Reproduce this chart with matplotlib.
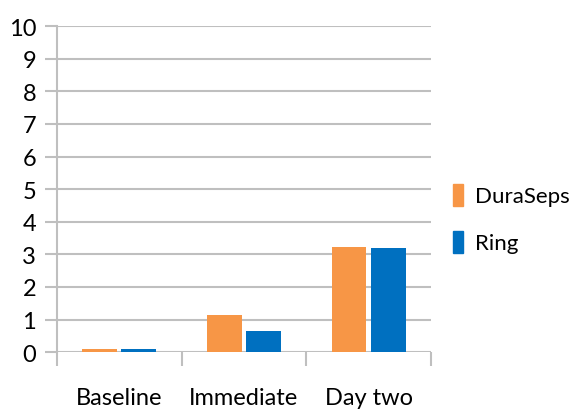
import matplotlib.pyplot as plt
import numpy as np
from matplotlib.patches import Patch

plt.rcParams['font.family'] = ['Lato', 'DejaVu Sans']

categories = ['Baseline', 'Immediate', 'Day two']
duraseps = [0.09, 1.14, 3.23]
ring = [0.09, 0.64, 3.18]
series_names = ['DuraSeps', 'Ring']
colors = ['#F79646', '#0070C0']
grid_c = '#BFBFBF'

fig = plt.figure(figsize=(5.77, 4.14), dpi=100)
ax = fig.add_axes([0.0988, 0.147, 0.648, 0.7875])

x = np.arange(len(categories))
w = 0.28
ax.bar(x - 0.157, duraseps, w, color=colors[0], zorder=3)
ax.bar(x + 0.157, ring, w, color=colors[1], zorder=3)

ax.set_xlim(-0.5, 2.5)
ax.set_ylim(0, 10)
ax.set_yticks(range(0, 11))
ax.yaxis.grid(True, color=grid_c, linewidth=1.5, zorder=0)

# category boundaries as ticks, labels centered below
ax.set_xticks([-0.5, 0.5, 1.5, 2.5])
ax.set_xticklabels([])
ax.set_xticks(x, minor=True)
ax.set_xticklabels(categories, minor=True, fontsize=17)
ax.tick_params(axis='x', which='minor', length=0, pad=25)
ax.tick_params(axis='x', which='major', length=10, width=1.5, color=grid_c)
ax.tick_params(axis='y', length=9, width=1.5, color=grid_c, labelsize=17, pad=6)

for s in ['top', 'right', 'bottom']:
    ax.spines[s].set_visible(False)
ax.spines['left'].set_color(grid_c)
ax.spines['left'].set_linewidth(1.5)

handles = [Patch(color=c) for c in colors]
fig.legend(handles, series_names, loc='center left', bbox_to_anchor=(0.785, 0.47),
           frameon=False, fontsize=16, handlelength=0.45, handleheight=1.15,
           handletextpad=0.55, labelspacing=1.1, borderpad=0, borderaxespad=0)

fig.savefig('out.png', dpi=100)
